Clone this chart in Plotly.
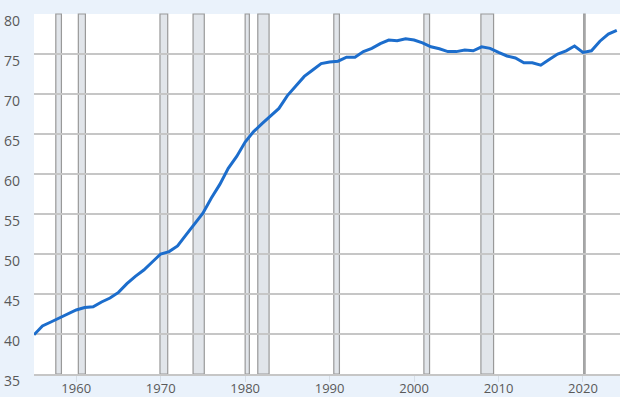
import plotly.graph_objects as go

years = list(range(1955, 2025))
values = [39.9, 41.0, 41.5, 42.0, 42.4, 43.0, 43.3, 43.4, 44.0, 44.5,
          45.2, 46.3, 47.2, 48.0, 49.0, 50.0, 50.3, 51.0, 52.4, 53.8,
          55.1, 57.0, 58.7, 60.7, 62.2, 64.0, 65.3, 66.3, 67.2, 68.2,
          69.8, 71.0, 72.2, 73.0, 73.8, 74.0, 74.1, 74.6, 74.6, 75.3,
          75.7, 76.3, 76.75, 76.65, 76.9, 76.75, 76.4, 75.9, 75.65, 75.3,
          75.3, 75.5, 75.4, 75.9, 75.7, 75.2, 74.75, 74.5, 73.9, 73.9,
          73.6, 74.3, 75.0, 75.4, 76.0, 75.2, 75.4, 76.6, 77.5, 77.95]
dates = [f"{y}-01-01" for y in years]

rec_start = ["1957-08-01", "1960-04-01", "1969-12-01", "1973-11-01", "1980-01-01",
             "1981-07-01", "1990-07-01", "2001-03-01", "2007-12-01", "2020-02-01"]
rec_end = ["1958-04-01", "1961-02-01", "1970-11-01", "1975-03-01", "1980-07-01",
           "1982-11-01", "1991-03-01", "2001-11-01", "2009-06-01", "2020-04-01"]

y_ticks = [35, 40, 45, 50, 55, 60, 65, 70, 75, 80]
x_ticks = ["1960-01-01", "1970-01-01", "1980-01-01", "1990-01-01", "2000-01-01",
           "2010-01-01", "2020-01-01"]
x_labels = ["1960", "1970", "1980", "1990", "2000", "2010", "2020"]

fig = go.Figure()

for s, e in zip(rec_start, rec_end):
    fig.add_shape(type="rect", xref="x", yref="paper", x0=s, x1=e, y0=0, y1=1,
                  fillcolor="#e1e5ea", line=dict(color="#999999", width=1.2),
                  layer="below")

fig.add_trace(go.Scatter(x=dates, y=values, mode="lines",
                         line=dict(color="#1c6dcc", width=3),
                         hoverinfo="x+y", showlegend=False))

fig.update_layout(
    width=620, height=397,
    margin=dict(l=34, r=0, t=14, b=23),
    paper_bgcolor="#eaf2fb",
    plot_bgcolor="#ffffff",
    font=dict(family="Open Sans", size=13, color="#595959"),
    xaxis=dict(range=["1955-01-01", "2024-05-20"], type="date",
               tickvals=x_ticks, ticktext=x_labels, automargin=False,
               showgrid=False, zeroline=False,
               showline=True, linecolor="#c6c6c6", linewidth=2,
               ticks="outside", ticklen=6, tickcolor="#d5dde6", tickwidth=1,
               ticklabelstandoff=-5),
    yaxis=dict(range=[35, 80], tickvals=y_ticks, automargin=False,
               showgrid=True, gridcolor="#c6c6c6", gridwidth=2,
               zeroline=False, showline=False, tickfont=dict(size=14),
               ticks="", ticklabelshift=7, ticklabelstandoff=13),
)

fig.write_html("out.html", config={"displayModeBar": False},
               post_script="document.body.style.margin='0';document.body.style.padding='0';")
